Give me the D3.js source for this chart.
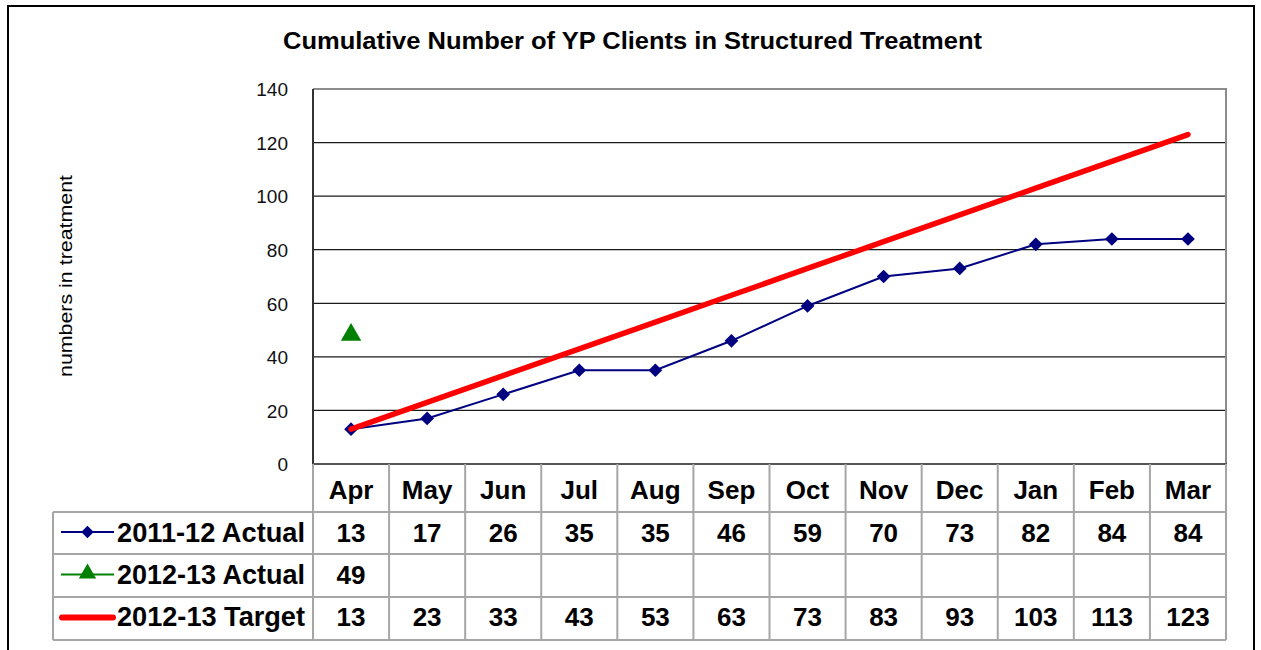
<!DOCTYPE html>
<html>
<head>
<meta charset="utf-8">
<script src="https://cdn.jsdelivr.net/npm/d3@7"></script>
<style>
  body { margin: 0; background: #fff; }
  text { font-family: Arial, "Liberation Sans", sans-serif; }
</style>
</head>
<body>
<div id="chart"></div>
<script>
// chart data
var months = ["Apr", "May", "Jun", "Jul", "Aug", "Sep", "Oct", "Nov", "Dec", "Jan", "Feb", "Mar"];
var actual1112 = [13, 17, 26, 35, 35, 46, 59, 70, 73, 82, 84, 84];
var actual1213 = [49, null, null, null, null, null, null, null, null, null, null, null];
var target1213 = [13, 23, 33, 43, 53, 63, 73, 83, 93, 103, 113, 123];
var yTicks = [0, 20, 40, 60, 80, 100, 120, 140];

var seriesNames = ["2011-12 Actual", "2012-13 Actual", "2012-13 Target"];

var svgWidth = 1261;
var svgHeight = 650;

// plot area
var plot = { left: 313, right: 1226, top: 89, bottom: 464 };
// data table rows (header + 3 series)
var rowTops = [464, 512, 554, 597, 640];
var tableLeft = 53;

var svg = d3.select("#chart")
  .append("svg")
  .attr("width", svgWidth)
  .attr("height", svgHeight);

// outer frame
svg.append("rect")
  .attr("x", 8)
  .attr("y", 6)
  .attr("width", 1246)
  .attr("height", 700)
  .attr("fill", "none")
  .attr("stroke", "#000")
  .attr("stroke-width", 2);

// title
svg.append("text")
  .attr("x", 632.5)
  .attr("y", 49)
  .attr("text-anchor", "middle")
  .attr("font-size", "23px")
  .attr("font-weight", "bold")
  .attr("textLength", 699)
  .attr("lengthAdjust", "spacingAndGlyphs")
  .text("Cumulative Number of YP Clients in Structured Treatment");

// scales
var xScale = d3.scaleBand()
  .domain(months)
  .range([plot.left, plot.right])
  .padding(0);

var yScale = d3.scaleLinear()
  .domain([0, 140])
  .range([plot.bottom, plot.top]);

var cx = d => xScale(d) + xScale.bandwidth() / 2;

// gridlines
svg.append("g")
  .selectAll("line")
  .data(yTicks.filter(t => t > 0 && t < 140))
  .enter()
  .append("line")
  .attr("x1", plot.left)
  .attr("x2", plot.right)
  .attr("y1", d => yScale(d))
  .attr("y2", d => yScale(d))
  .attr("stroke", "#1a1a1a")
  .attr("stroke-width", 1.2);

// plot border (top/right gray)
svg.append("path")
  .attr("d", `M${plot.left},${plot.top}H${plot.right}V${plot.bottom}`)
  .attr("fill", "none")
  .attr("stroke", "#8c8c8c")
  .attr("stroke-width", 2);

// y axis
var yAxis = d3.axisLeft(yScale).tickValues(yTicks).tickSize(0).tickPadding(25);
var yAxisG = svg.append("g")
  .attr("transform", `translate(${plot.left},0)`)
  .call(yAxis);
yAxisG.select(".domain").remove();
yAxisG.selectAll("text")
  .attr("font-size", "19px")
  .attr("fill", "#111")
  .attr("dy", "0.36em")
  .style("font-family", "Arial, 'Liberation Sans', sans-serif");

// axis lines
svg.append("line")
  .attr("x1", plot.left).attr("x2", plot.left)
  .attr("y1", plot.top).attr("y2", plot.bottom + 1)
  .attr("stroke", "#333").attr("stroke-width", 2);
svg.append("line")
  .attr("x1", plot.left).attr("x2", plot.right + 1)
  .attr("y1", plot.bottom).attr("y2", plot.bottom)
  .attr("stroke", "#555").attr("stroke-width", 2);

// y label
svg.append("text")
  .attr("transform", "rotate(-90)")
  .attr("x", -276)
  .attr("y", 72)
  .attr("text-anchor", "middle")
  .attr("font-size", "19px")
  .attr("textLength", 202)
  .attr("lengthAdjust", "spacingAndGlyphs")
  .text("numbers in treatment");

var line = d3.line()
  .defined(d => d.v != null)
  .x(d => cx(d.m))
  .y(d => yScale(d.v));

var targetData = months.map((m, i) => ({ m: m, v: target1213[i] }));
var actualData = months.map((m, i) => ({ m: m, v: actual1112[i] }));
var actual2Data = months.map((m, i) => ({ m: m, v: actual1213[i] }));

// 2011-12 actual line
svg.append("path")
  .datum(actualData)
  .attr("d", line)
  .attr("fill", "none")
  .attr("stroke", "#000080")
  .attr("stroke-width", 2);

svg.append("g")
  .selectAll("path")
  .data(actualData)
  .enter()
  .append("path")
  .attr("d", d3.symbol().type(d3.symbolDiamond2).size(120))
  .attr("transform", d => `translate(${cx(d.m)},${yScale(d.v)})`)
  .attr("fill", "#000080");

// target line
svg.append("path")
  .datum(targetData)
  .attr("d", line)
  .attr("fill", "none")
  .attr("stroke", "#ff0000")
  .attr("stroke-width", 5.5)
  .attr("stroke-linecap", "round");

// 2012-13 actual
svg.append("g")
  .selectAll("path")
  .data(actual2Data.filter(d => d.v != null))
  .enter()
  .append("path")
  .attr("d", d3.symbol().type(d3.symbolTriangle).size(180))
  .attr("transform", d => `translate(${cx(d.m)},${yScale(d.v) + 2})`)
  .attr("fill", "#008000");

// data table
var table = svg.append("g");
var gridColor = "#a6a6a6";

// horizontal lines
table.selectAll("line.h")
  .data(rowTops.slice(1))
  .enter()
  .append("line")
  .attr("class", "h")
  .attr("x1", tableLeft)
  .attr("x2", plot.right)
  .attr("y1", d => d)
  .attr("y2", d => d)
  .attr("stroke", gridColor)
  .attr("stroke-width", 2);

// vertical lines
var vx = months.map(m => xScale(m)).concat([plot.right]);
table.selectAll("line.v")
  .data(vx)
  .enter()
  .append("line")
  .attr("class", "v")
  .attr("x1", d => d)
  .attr("x2", d => d)
  .attr("y1", rowTops[0])
  .attr("y2", rowTops[4])
  .attr("stroke", gridColor)
  .attr("stroke-width", 2);

table.append("line")
  .attr("x1", tableLeft).attr("x2", tableLeft)
  .attr("y1", rowTops[1]).attr("y2", rowTops[4])
  .attr("stroke", gridColor).attr("stroke-width", 2);

// header
table.selectAll("text.month")
  .data(months)
  .enter()
  .append("text")
  .attr("class", "month")
  .attr("x", d => cx(d))
  .attr("y", 499)
  .attr("text-anchor", "middle")
  .attr("font-size", "26px")
  .attr("font-weight", "bold")
  .text(d => d);

// value rows
var rows = [actual1112, actual1213, target1213];
var baselines = [542, 584, 626];
rows.forEach(function(vals, r) {
  var yBase = baselines[r];
  table.selectAll("text.r" + r)
    .data(months.map((m, i) => ({ m: m, v: vals[i] })).filter(d => d.v != null))
    .enter()
    .append("text")
    .attr("class", "r" + r)
    .attr("x", d => cx(d.m))
    .attr("y", yBase)
    .attr("text-anchor", "middle")
    .attr("font-size", "26px")
    .attr("font-weight", "bold")
    .text(d => d.v);

  // legend key
  var ky = (rowTops[r + 1] + rowTops[r + 2]) / 2 - 1;
  var key = table.append("g");
  if (r === 0) {
    key.append("line").attr("x1", 61).attr("x2", 114).attr("y1", ky).attr("y2", ky)
      .attr("stroke", "#000080").attr("stroke-width", 2);
    key.append("path").attr("d", d3.symbol().type(d3.symbolDiamond2).size(100))
      .attr("transform", `translate(87.5,${ky})`).attr("fill", "#000080");
  } else if (r === 1) {
    key.append("line").attr("x1", 61).attr("x2", 114).attr("y1", ky).attr("y2", ky)
      .attr("stroke", "#008000").attr("stroke-width", 2);
    key.append("path").attr("d", d3.symbol().type(d3.symbolTriangle).size(130))
      .attr("transform", `translate(87.5,${ky - 1})`).attr("fill", "#008000");
  } else {
    key.append("line").attr("x1", 62).attr("x2", 113).attr("y1", ky).attr("y2", ky)
      .attr("stroke", "#ff0000").attr("stroke-width", 6).attr("stroke-linecap", "round");
  }
  table.append("text")
    .attr("x", 117)
    .attr("y", yBase)
    .attr("font-size", "27px")
    .attr("font-weight", "bold")
    .attr("textLength", 188)
    .attr("lengthAdjust", "spacingAndGlyphs")
    .text(seriesNames[r]);
});
</script>
</body>
</html>
